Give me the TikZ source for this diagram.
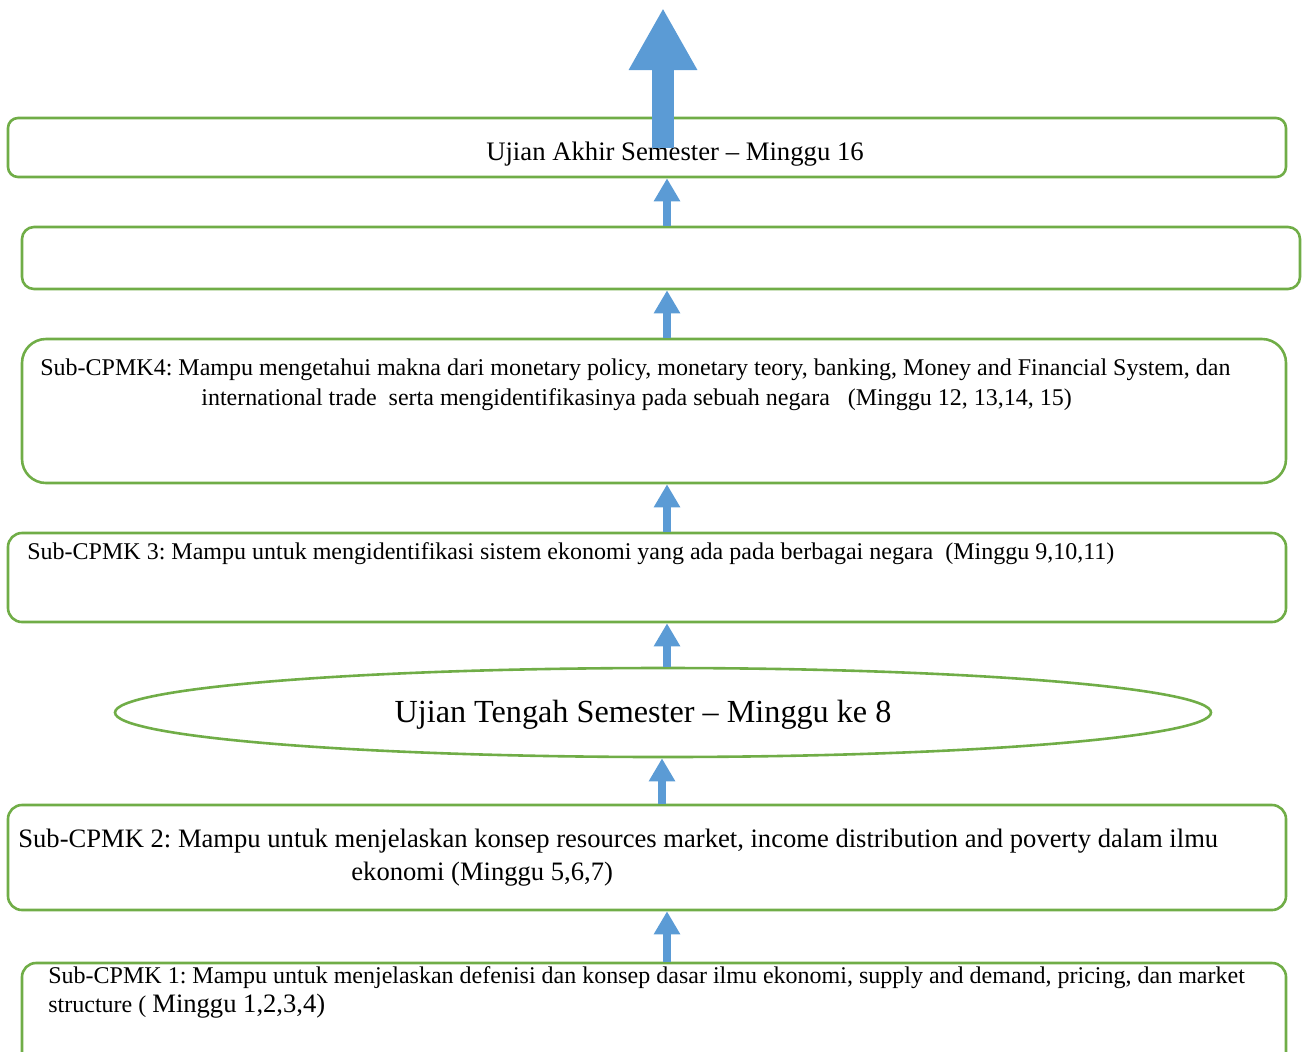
\documentclass[tikz,border=0pt]{standalone}
\usepackage{fontspec}
\setmainfont{Liberation Serif}
\usetikzlibrary{arrows.meta,calc,shapes.geometric}
\definecolor{boxgreen}{HTML}{70AD47}
\definecolor{arrblue}{HTML}{5B9BD5}
\newcommand{\fs}[1]{\fontsize{#1}{#1}\selectfont}
\frenchspacing
\begin{document}
\begin{tikzpicture}[x=0.5pt,y=-0.5pt,
  gbox/.style={draw=boxgreen,line width=1.3pt,inner sep=0pt,rectangle},
  sarrow/.style={draw=arrblue,line width=4pt,-{Triangle[width=12.5pt,length=11.5pt]}},
  bigarrow/.style={draw=arrblue,line width=11pt,-{Triangle[width=32pt,length=31pt]}},
  txtl/.style={inner sep=0pt,anchor=base west},
  txtc/.style={inner sep=0pt,anchor=base}]
\useasboundingbox (0,0) rectangle (1306,1051);
\begin{scope}
\clip (0,0) rectangle (1306,1051);
% boxes
\node[gbox,rounded corners=5pt,minimum width=639pt,minimum height=29.5pt] (ua) at (647,147.5) {};
\node[gbox,rounded corners=6pt,minimum width=639pt,minimum height=31pt] (ue) at (661,258) {};
\node[gbox,rounded corners=12pt,minimum width=632pt,minimum height=72pt] (c4) at (654,411) {};
\node[gbox,rounded corners=7pt,minimum width=639pt,minimum height=44.5pt] (c3) at (647,577.5) {};
\node[draw=boxgreen,line width=1.3pt,ellipse,inner sep=0pt,minimum width=548pt,minimum height=44.5pt] (ut) at (663,712.5) {};
\node[gbox,rounded corners=7pt,minimum width=639pt,minimum height=52.5pt] (c2) at (647,857.5) {};
\node[gbox,rounded corners=7pt,minimum width=632pt,minimum height=65pt] (c1) at (654,1028) {};
\end{scope}
% texts
\node[txtc,font=\fs{13.35}] (uat) at (675,160) {Ujian Akhir Semester – Minggu 16};
\node[txtl,font=\fs{12}] (c4a) at (40,375) {Sub-CPMK4: Mampu mengetahui makna dari monetary policy, monetary teory, banking, Money and Financial System, dan};
\node[txtl,font=\fs{12}] (c4b) at (201,405) {international trade\ \ serta mengidentifikasinya pada sebuah negara\ \ \ (Minggu 12, 13,14, 15)};
\node[txtl,font=\fs{12}] (c3a) at (27,559) {Sub-CPMK 3: Mampu untuk mengidentifikasi sistem ekonomi yang ada pada berbagai negara\ \ (Minggu 9,10,11)};
\node[txtc,font=\fs{16.1}] (utt) at (643,722) {Ujian Tengah Semester – Minggu ke 8};
\node[txtl,font=\fs{13.3}] (c2a) at (18,847) {Sub-CPMK 2: Mampu untuk menjelaskan konsep resources market, income distribution and poverty dalam ilmu};
\node[txtl,font=\fs{13.3}] (c2b) at (351,880) {ekonomi (Minggu 5,6,7)};
\node[txtl,font=\fs{12}] (c1a) at (48,983) {Sub-CPMK 1: Mampu untuk menjelaskan defenisi dan konsep dasar ilmu ekonomi, supply and demand, pricing, dan market};
\node[txtl,font=\fs{12}] (c1b) at (48,1012) {structure ( {\fs{13.3}Minggu 1,2,3,4)}};
% arrow columns
\coordinate (col) at (667,0);
\coordinate (col2) at (662,0);
\coordinate (bigcol) at (663,0);
\coordinate (top) at (663,8);
\draw[sarrow] (ue.north -| col) -- (ua.south -| col);
\draw[sarrow] (c4.north -| col) -- (ue.south -| col);
\draw[sarrow] (c3.north -| col) -- (c4.south -| col);
\draw[sarrow] (ut.north -| col) -- (c3.south -| col);
\draw[sarrow] (c2.north -| col2) -- (ut.south -| col2);
\draw[sarrow] (c1.north -| col) -- (c2.south -| col);
\draw[bigarrow] (ua.center -| bigcol) -- (top);
\end{tikzpicture}
\end{document}
